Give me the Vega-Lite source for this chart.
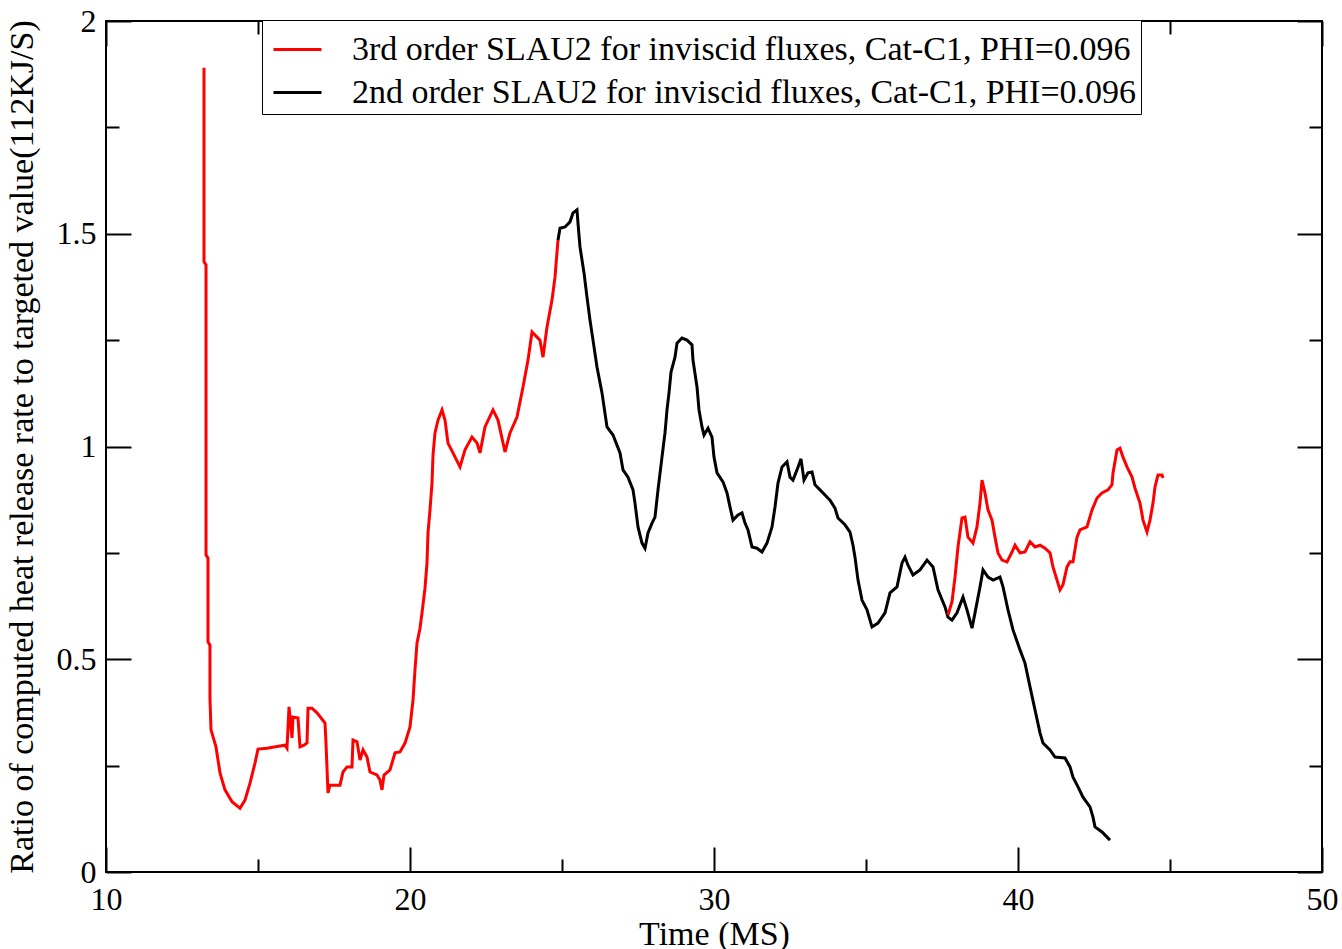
{
  "$schema": "https://vega.github.io/schema/vega-lite/v6.json",
  "width": 1216,
  "height": 851,
  "autosize": {"type": "none"},
  "padding": {"left": 106, "top": 21, "right": 20, "bottom": 77},
  "background": "white",
  "config": {
    "view": {"stroke": "black", "strokeWidth": 2},
    "font": "Liberation Serif",
    "axis": {
      "domain": false, "grid": false,
      "labelFont": "Liberation Serif", "labelFontSize": 32, "labelColor": "black",
      "labelFlush": false, "labelOverlap": false,
      "tickColor": "black", "tickWidth": 2,
      "titleFont": "Liberation Serif", "titleFontSize": 34, "titleFontWeight": "normal", "titleColor": "black"
    },
    "legend": {
      "orient": "none", "legendX": 156, "legendY": -1,
      "strokeColor": "black", "fillColor": "white", "padding": 4,
      "labelFont": "Liberation Serif", "labelFontSize": 34, "labelColor": "black", "labelLimit": 2000,
      "labelOffset": 29, "rowPadding": 0, "symbolOffset": 6,
      "symbolType": "stroke", "symbolSize": 2304, "symbolStrokeWidth": 3
    }
  },
  "datasets": {
    "frame": [{"t": 10, "v": 0}, {"t": 50, "v": 2}],
    "curves": [
      {"s":"3rd","g":1,"t":13.224,"v":1.890},{"s":"3rd","g":1,"t":13.224,"v":1.434},{"s":"3rd","g":1,"t":13.29,"v":1.427},{"s":"3rd","g":1,"t":13.29,"v":0.745},{"s":"3rd","g":1,"t":13.355,"v":0.738},{"s":"3rd","g":1,"t":13.355,"v":0.541},{"s":"3rd","g":1,"t":13.42,"v":0.533},{"s":"3rd","g":1,"t":13.42,"v":0.409},{"s":"3rd","g":1,"t":13.454,"v":0.334},{"s":"3rd","g":1,"t":13.618,"v":0.294},{"s":"3rd","g":1,"t":13.75,"v":0.233},{"s":"3rd","g":1,"t":13.914,"v":0.193},{"s":"3rd","g":1,"t":14.145,"v":0.165},{"s":"3rd","g":1,"t":14.408,"v":0.150},{"s":"3rd","g":1,"t":14.572,"v":0.169},{"s":"3rd","g":1,"t":14.737,"v":0.209},{"s":"3rd","g":1,"t":14.901,"v":0.256},{"s":"3rd","g":1,"t":15.0,"v":0.289},{"s":"3rd","g":1,"t":15.296,"v":0.291},{"s":"3rd","g":1,"t":15.724,"v":0.296},{"s":"3rd","g":1,"t":15.888,"v":0.298},{"s":"3rd","g":1,"t":15.954,"v":0.291},{"s":"3rd","g":1,"t":16.02,"v":0.388},{"s":"3rd","g":1,"t":16.118,"v":0.315},{"s":"3rd","g":1,"t":16.151,"v":0.364},{"s":"3rd","g":1,"t":16.316,"v":0.362},{"s":"3rd","g":1,"t":16.382,"v":0.294},{"s":"3rd","g":1,"t":16.513,"v":0.298},{"s":"3rd","g":1,"t":16.612,"v":0.303},{"s":"3rd","g":1,"t":16.645,"v":0.385},{"s":"3rd","g":1,"t":16.776,"v":0.385},{"s":"3rd","g":1,"t":16.941,"v":0.374},{"s":"3rd","g":1,"t":17.204,"v":0.350},{"s":"3rd","g":1,"t":17.237,"v":0.303},{"s":"3rd","g":1,"t":17.303,"v":0.186},{"s":"3rd","g":1,"t":17.368,"v":0.204},{"s":"3rd","g":1,"t":17.697,"v":0.204},{"s":"3rd","g":1,"t":17.796,"v":0.235},{"s":"3rd","g":1,"t":17.928,"v":0.247},{"s":"3rd","g":1,"t":18.092,"v":0.247},{"s":"3rd","g":1,"t":18.125,"v":0.310},{"s":"3rd","g":1,"t":18.257,"v":0.306},{"s":"3rd","g":1,"t":18.355,"v":0.263},{"s":"3rd","g":1,"t":18.454,"v":0.287},{"s":"3rd","g":1,"t":18.586,"v":0.270},{"s":"3rd","g":1,"t":18.684,"v":0.235},{"s":"3rd","g":1,"t":18.914,"v":0.228},{"s":"3rd","g":1,"t":19.013,"v":0.216},{"s":"3rd","g":1,"t":19.079,"v":0.193},{"s":"3rd","g":1,"t":19.145,"v":0.228},{"s":"3rd","g":1,"t":19.342,"v":0.240},{"s":"3rd","g":1,"t":19.507,"v":0.280},{"s":"3rd","g":1,"t":19.671,"v":0.282},{"s":"3rd","g":1,"t":19.836,"v":0.303},{"s":"3rd","g":1,"t":20.0,"v":0.341},{"s":"3rd","g":1,"t":20.099,"v":0.404},{"s":"3rd","g":1,"t":20.164,"v":0.475},{"s":"3rd","g":1,"t":20.23,"v":0.538},{"s":"3rd","g":1,"t":20.329,"v":0.573},{"s":"3rd","g":1,"t":20.395,"v":0.609},{"s":"3rd","g":1,"t":20.493,"v":0.667},{"s":"3rd","g":1,"t":20.559,"v":0.726},{"s":"3rd","g":1,"t":20.592,"v":0.797},{"s":"3rd","g":1,"t":20.658,"v":0.851},{"s":"3rd","g":1,"t":20.724,"v":0.914},{"s":"3rd","g":1,"t":20.757,"v":0.980},{"s":"3rd","g":1,"t":20.822,"v":1.032},{"s":"3rd","g":1,"t":20.921,"v":1.062},{"s":"3rd","g":1,"t":21.053,"v":1.086},{"s":"3rd","g":1,"t":21.151,"v":1.062},{"s":"3rd","g":1,"t":21.25,"v":1.008},{"s":"3rd","g":1,"t":21.414,"v":0.985},{"s":"3rd","g":1,"t":21.645,"v":0.952},{"s":"3rd","g":1,"t":21.809,"v":0.992},{"s":"3rd","g":1,"t":22.039,"v":1.022},{"s":"3rd","g":1,"t":22.204,"v":1.008},{"s":"3rd","g":1,"t":22.303,"v":0.985},{"s":"3rd","g":1,"t":22.467,"v":1.046},{"s":"3rd","g":1,"t":22.73,"v":1.086},{"s":"3rd","g":1,"t":22.895,"v":1.062},{"s":"3rd","g":1,"t":23.125,"v":0.987},{"s":"3rd","g":1,"t":23.289,"v":1.032},{"s":"3rd","g":1,"t":23.52,"v":1.069},{"s":"3rd","g":1,"t":23.717,"v":1.140},{"s":"3rd","g":1,"t":23.882,"v":1.203},{"s":"3rd","g":1,"t":24.013,"v":1.269},{"s":"3rd","g":1,"t":24.178,"v":1.257},{"s":"3rd","g":1,"t":24.276,"v":1.250},{"s":"3rd","g":1,"t":24.375,"v":1.210},{"s":"3rd","g":1,"t":24.507,"v":1.281},{"s":"3rd","g":1,"t":24.671,"v":1.344},{"s":"3rd","g":1,"t":24.77,"v":1.398},{"s":"3rd","g":1,"t":24.868,"v":1.485},
      {"s":"2nd","g":3,"t":24.868,"v":1.485},{"s":"2nd","g":3,"t":24.934,"v":1.513},{"s":"2nd","g":3,"t":25.099,"v":1.516},{"s":"2nd","g":3,"t":25.263,"v":1.528},{"s":"2nd","g":3,"t":25.362,"v":1.549},{"s":"2nd","g":3,"t":25.493,"v":1.556},{"s":"2nd","g":3,"t":25.526,"v":1.525},{"s":"2nd","g":3,"t":25.592,"v":1.469},{"s":"2nd","g":3,"t":25.724,"v":1.408},{"s":"2nd","g":3,"t":25.822,"v":1.351},{"s":"2nd","g":3,"t":25.921,"v":1.297},{"s":"2nd","g":3,"t":26.02,"v":1.250},{"s":"2nd","g":3,"t":26.151,"v":1.187},{"s":"2nd","g":3,"t":26.316,"v":1.126},{"s":"2nd","g":3,"t":26.48,"v":1.046},{"s":"2nd","g":3,"t":26.678,"v":1.027},{"s":"2nd","g":3,"t":26.908,"v":0.985},{"s":"2nd","g":3,"t":27.007,"v":0.945},{"s":"2nd","g":3,"t":27.171,"v":0.928},{"s":"2nd","g":3,"t":27.336,"v":0.898},{"s":"2nd","g":3,"t":27.401,"v":0.867},{"s":"2nd","g":3,"t":27.5,"v":0.811},{"s":"2nd","g":3,"t":27.632,"v":0.773},{"s":"2nd","g":3,"t":27.73,"v":0.761},{"s":"2nd","g":3,"t":27.829,"v":0.797},{"s":"2nd","g":3,"t":27.961,"v":0.820},{"s":"2nd","g":3,"t":28.059,"v":0.834},{"s":"2nd","g":3,"t":28.158,"v":0.898},{"s":"2nd","g":3,"t":28.289,"v":0.975},{"s":"2nd","g":3,"t":28.388,"v":1.032},{"s":"2nd","g":3,"t":28.454,"v":1.086},{"s":"2nd","g":3,"t":28.52,"v":1.126},{"s":"2nd","g":3,"t":28.586,"v":1.175},{"s":"2nd","g":3,"t":28.717,"v":1.210},{"s":"2nd","g":3,"t":28.783,"v":1.243},{"s":"2nd","g":3,"t":28.947,"v":1.255},{"s":"2nd","g":3,"t":29.112,"v":1.250},{"s":"2nd","g":3,"t":29.276,"v":1.239},{"s":"2nd","g":3,"t":29.309,"v":1.203},{"s":"2nd","g":3,"t":29.441,"v":1.140},{"s":"2nd","g":3,"t":29.507,"v":1.086},{"s":"2nd","g":3,"t":29.605,"v":1.046},{"s":"2nd","g":3,"t":29.671,"v":1.027},{"s":"2nd","g":3,"t":29.803,"v":1.043},{"s":"2nd","g":3,"t":29.934,"v":1.022},{"s":"2nd","g":3,"t":30.0,"v":0.975},{"s":"2nd","g":3,"t":30.099,"v":0.938},{"s":"2nd","g":3,"t":30.296,"v":0.917},{"s":"2nd","g":3,"t":30.428,"v":0.891},{"s":"2nd","g":3,"t":30.526,"v":0.858},{"s":"2nd","g":3,"t":30.625,"v":0.827},{"s":"2nd","g":3,"t":30.789,"v":0.839},{"s":"2nd","g":3,"t":30.921,"v":0.844},{"s":"2nd","g":3,"t":31.02,"v":0.820},{"s":"2nd","g":3,"t":31.118,"v":0.804},{"s":"2nd","g":3,"t":31.25,"v":0.764},{"s":"2nd","g":3,"t":31.414,"v":0.761},{"s":"2nd","g":3,"t":31.579,"v":0.752},{"s":"2nd","g":3,"t":31.743,"v":0.773},{"s":"2nd","g":3,"t":31.908,"v":0.811},{"s":"2nd","g":3,"t":32.007,"v":0.858},{"s":"2nd","g":3,"t":32.105,"v":0.914},{"s":"2nd","g":3,"t":32.237,"v":0.952},{"s":"2nd","g":3,"t":32.401,"v":0.964},{"s":"2nd","g":3,"t":32.5,"v":0.928},{"s":"2nd","g":3,"t":32.599,"v":0.921},{"s":"2nd","g":3,"t":32.73,"v":0.945},{"s":"2nd","g":3,"t":32.862,"v":0.971},{"s":"2nd","g":3,"t":32.961,"v":0.921},{"s":"2nd","g":3,"t":33.092,"v":0.938},{"s":"2nd","g":3,"t":33.224,"v":0.940},{"s":"2nd","g":3,"t":33.322,"v":0.910},{"s":"2nd","g":3,"t":33.487,"v":0.898},{"s":"2nd","g":3,"t":33.651,"v":0.886},{"s":"2nd","g":3,"t":33.816,"v":0.874},{"s":"2nd","g":3,"t":33.98,"v":0.855},{"s":"2nd","g":3,"t":34.079,"v":0.832},{"s":"2nd","g":3,"t":34.309,"v":0.816},{"s":"2nd","g":3,"t":34.474,"v":0.799},{"s":"2nd","g":3,"t":34.572,"v":0.768},{"s":"2nd","g":3,"t":34.638,"v":0.740},{"s":"2nd","g":3,"t":34.737,"v":0.686},{"s":"2nd","g":3,"t":34.868,"v":0.639},{"s":"2nd","g":3,"t":35.033,"v":0.616},{"s":"2nd","g":3,"t":35.197,"v":0.576},{"s":"2nd","g":3,"t":35.395,"v":0.585},{"s":"2nd","g":3,"t":35.625,"v":0.609},{"s":"2nd","g":3,"t":35.789,"v":0.656},{"s":"2nd","g":3,"t":36.02,"v":0.670},{"s":"2nd","g":3,"t":36.184,"v":0.726},{"s":"2nd","g":3,"t":36.283,"v":0.740},{"s":"2nd","g":3,"t":36.382,"v":0.721},{"s":"2nd","g":3,"t":36.546,"v":0.698},{"s":"2nd","g":3,"t":36.776,"v":0.710},{"s":"2nd","g":3,"t":37.007,"v":0.733},{"s":"2nd","g":3,"t":37.204,"v":0.717},{"s":"2nd","g":3,"t":37.368,"v":0.663},{"s":"2nd","g":3,"t":37.599,"v":0.623},{"s":"2nd","g":3,"t":37.697,"v":0.599},{"s":"2nd","g":3,"t":37.829,"v":0.592},{"s":"2nd","g":3,"t":37.993,"v":0.609},{"s":"2nd","g":3,"t":38.191,"v":0.646},{"s":"2nd","g":3,"t":38.322,"v":0.616},{"s":"2nd","g":3,"t":38.487,"v":0.573},{"s":"2nd","g":3,"t":38.586,"v":0.609},{"s":"2nd","g":3,"t":38.75,"v":0.670},{"s":"2nd","g":3,"t":38.849,"v":0.710},{"s":"2nd","g":3,"t":39.013,"v":0.693},{"s":"2nd","g":3,"t":39.178,"v":0.686},{"s":"2nd","g":3,"t":39.408,"v":0.693},{"s":"2nd","g":3,"t":39.507,"v":0.670},{"s":"2nd","g":3,"t":39.671,"v":0.616},{"s":"2nd","g":3,"t":39.836,"v":0.569},{"s":"2nd","g":3,"t":40.066,"v":0.522},{"s":"2nd","g":3,"t":40.23,"v":0.491},{"s":"2nd","g":3,"t":40.395,"v":0.435},{"s":"2nd","g":3,"t":40.559,"v":0.381},{"s":"2nd","g":3,"t":40.724,"v":0.327},{"s":"2nd","g":3,"t":40.822,"v":0.303},{"s":"2nd","g":3,"t":41.053,"v":0.287},{"s":"2nd","g":3,"t":41.217,"v":0.270},{"s":"2nd","g":3,"t":41.546,"v":0.268},{"s":"2nd","g":3,"t":41.711,"v":0.247},{"s":"2nd","g":3,"t":41.809,"v":0.223},{"s":"2nd","g":3,"t":41.974,"v":0.200},{"s":"2nd","g":3,"t":42.138,"v":0.176},{"s":"2nd","g":3,"t":42.368,"v":0.153},{"s":"2nd","g":3,"t":42.467,"v":0.129},{"s":"2nd","g":3,"t":42.533,"v":0.106},{"s":"2nd","g":3,"t":42.763,"v":0.094},{"s":"2nd","g":3,"t":43.026,"v":0.075},
      {"s":"3rd","g":2,"t":37.697,"v":0.604},{"s":"3rd","g":2,"t":37.829,"v":0.635},{"s":"3rd","g":2,"t":37.928,"v":0.693},{"s":"3rd","g":2,"t":38.026,"v":0.764},{"s":"3rd","g":2,"t":38.158,"v":0.832},{"s":"3rd","g":2,"t":38.257,"v":0.834},{"s":"3rd","g":2,"t":38.355,"v":0.787},{"s":"3rd","g":2,"t":38.52,"v":0.773},{"s":"3rd","g":2,"t":38.651,"v":0.811},{"s":"3rd","g":2,"t":38.75,"v":0.867},{"s":"3rd","g":2,"t":38.816,"v":0.921},{"s":"3rd","g":2,"t":38.914,"v":0.891},{"s":"3rd","g":2,"t":39.013,"v":0.851},{"s":"3rd","g":2,"t":39.145,"v":0.827},{"s":"3rd","g":2,"t":39.243,"v":0.787},{"s":"3rd","g":2,"t":39.342,"v":0.750},{"s":"3rd","g":2,"t":39.474,"v":0.733},{"s":"3rd","g":2,"t":39.638,"v":0.729},{"s":"3rd","g":2,"t":39.803,"v":0.752},{"s":"3rd","g":2,"t":39.901,"v":0.768},{"s":"3rd","g":2,"t":40.066,"v":0.750},{"s":"3rd","g":2,"t":40.23,"v":0.752},{"s":"3rd","g":2,"t":40.395,"v":0.776},{"s":"3rd","g":2,"t":40.559,"v":0.764},{"s":"3rd","g":2,"t":40.724,"v":0.768},{"s":"3rd","g":2,"t":40.888,"v":0.761},{"s":"3rd","g":2,"t":41.053,"v":0.750},{"s":"3rd","g":2,"t":41.151,"v":0.717},{"s":"3rd","g":2,"t":41.283,"v":0.686},{"s":"3rd","g":2,"t":41.382,"v":0.663},{"s":"3rd","g":2,"t":41.48,"v":0.675},{"s":"3rd","g":2,"t":41.612,"v":0.717},{"s":"3rd","g":2,"t":41.711,"v":0.729},{"s":"3rd","g":2,"t":41.809,"v":0.729},{"s":"3rd","g":2,"t":41.941,"v":0.787},{"s":"3rd","g":2,"t":42.039,"v":0.804},{"s":"3rd","g":2,"t":42.27,"v":0.811},{"s":"3rd","g":2,"t":42.434,"v":0.851},{"s":"3rd","g":2,"t":42.599,"v":0.879},{"s":"3rd","g":2,"t":42.763,"v":0.891},{"s":"3rd","g":2,"t":42.961,"v":0.898},{"s":"3rd","g":2,"t":43.092,"v":0.910},{"s":"3rd","g":2,"t":43.125,"v":0.938},{"s":"3rd","g":2,"t":43.257,"v":0.992},{"s":"3rd","g":2,"t":43.355,"v":0.996},{"s":"3rd","g":2,"t":43.454,"v":0.975},{"s":"3rd","g":2,"t":43.586,"v":0.952},{"s":"3rd","g":2,"t":43.75,"v":0.928},{"s":"3rd","g":2,"t":43.849,"v":0.902},{"s":"3rd","g":2,"t":44.013,"v":0.867},{"s":"3rd","g":2,"t":44.112,"v":0.827},{"s":"3rd","g":2,"t":44.243,"v":0.799},{"s":"3rd","g":2,"t":44.342,"v":0.827},{"s":"3rd","g":2,"t":44.441,"v":0.867},{"s":"3rd","g":2,"t":44.507,"v":0.905},{"s":"3rd","g":2,"t":44.605,"v":0.933},{"s":"3rd","g":2,"t":44.737,"v":0.933},{"s":"3rd","g":2,"t":44.77,"v":0.926}
    ]
  },
  "resolve": {"axis": {"x": "independent", "y": "independent"}},
  "layer": [
    {
      "data": {"name": "curves"},
      "mark": {"type": "line", "strokeWidth": 3, "clip": true},
      "encoding": {
        "x": {"field": "t", "type": "quantitative", "scale": {"domain": [10, 50], "nice": false, "zero": false},
          "axis": {"orient": "bottom", "values": [10, 20, 30, 40, 50], "format": "d", "tickSize": -25, "labelPadding": 37, "title": "Time (MS)", "titlePadding": 2}},
        "y": {"field": "v", "type": "quantitative", "scale": {"domain": [0, 2], "nice": false, "zero": false},
          "axis": {"orient": "left", "values": [0, 0.5, 1, 1.5, 2], "format": "~g", "tickSize": -25, "labelPadding": 35, "title": "Ratio of computed heat release rate to targeted value(112KJ/S)", "titlePadding": 17}},
        "color": {"field": "s", "type": "nominal", "scale": {"domain": ["3rd", "2nd"], "range": ["#ff0000", "#000000"]},
          "legend": {"title": null, "labelExpr": "datum.label == '3rd' ? '3rd order SLAU2 for inviscid fluxes, Cat-C1, PHI=0.096' : '2nd order SLAU2 for inviscid fluxes, Cat-C1, PHI=0.096'"}},
        "detail": {"field": "g", "type": "nominal"},
        "order": {"value": null}
      }
    },
    {
      "data": {"name": "frame"},
      "mark": {"type": "point", "opacity": 0},
      "encoding": {
        "x": {"field": "t", "type": "quantitative", "axis": {"orient": "bottom", "values": [15, 25, 35, 45], "tickSize": -13, "labels": false, "title": null}},
        "y": {"field": "v", "type": "quantitative", "axis": {"orient": "left", "values": [0.25, 0.75, 1.25, 1.75], "tickSize": -13, "labels": false, "title": null}}
      }
    },
    {
      "data": {"name": "frame"},
      "mark": {"type": "point", "opacity": 0},
      "encoding": {
        "x": {"field": "t", "type": "quantitative", "axis": {"orient": "top", "values": [10, 20, 30, 40, 50], "tickSize": -25, "labels": false, "title": null}},
        "y": {"field": "v", "type": "quantitative", "axis": {"orient": "right", "values": [0, 0.5, 1, 1.5, 2], "tickSize": -25, "labels": false, "title": null}}
      }
    },
    {
      "data": {"name": "frame"},
      "mark": {"type": "point", "opacity": 0},
      "encoding": {
        "x": {"field": "t", "type": "quantitative", "axis": {"orient": "top", "values": [15, 25, 35, 45], "tickSize": -13, "labels": false, "title": null}},
        "y": {"field": "v", "type": "quantitative", "axis": {"orient": "right", "values": [0.25, 0.75, 1.25, 1.75], "tickSize": -13, "labels": false, "title": null}}
      }
    }
  ]
}
